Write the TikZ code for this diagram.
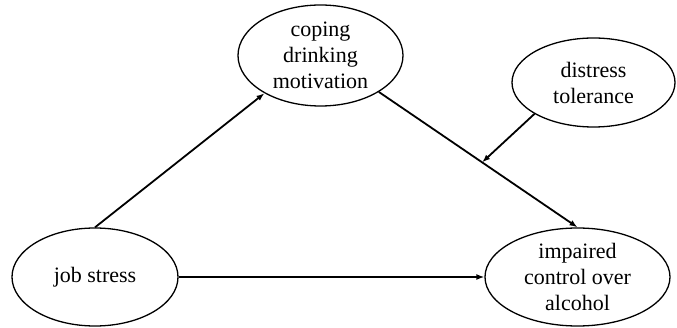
\documentclass[tikz,border=0pt]{standalone}
\usepackage{fontspec}
\setmainfont{Liberation Serif}
\usetikzlibrary{shapes.geometric,arrows.meta,calc}
\begin{document}
\begin{tikzpicture}[x=1pt,y=-1pt,
  var/.style={ellipse,draw,line width=1.3pt,inner sep=0pt,align=center,
    font=\fontsize{22}{26}\selectfont},
  conn/.style={line width=1.8pt,-{Latex[length=8pt,width=6pt]}}]
\useasboundingbox (0,0) rectangle (677,328);
\node[var,minimum width=165pt,minimum height=101pt] (coping) at (320.5,55.5) {coping\\drinking\\motivation};
\node[var,minimum width=163pt,minimum height=89pt] (distress) at (593.5,82.5) {distress\\tolerance};
\node[var,minimum width=166pt,minimum height=98pt] (job) at (95,277) {job stress};
\node[var,minimum width=185pt,minimum height=98pt] (impaired) at (577.5,277) {impaired\\control over\\alcohol};
\draw[conn] (job.north) -- (coping.-146);
\draw[conn] (job.east) -- (impaired.west);
\draw[conn] (coping.-32) -- coordinate[pos=0.52] (mid) (impaired.north);
\draw[conn] (distress.-152) -- (mid);
\end{tikzpicture}
\end{document}
